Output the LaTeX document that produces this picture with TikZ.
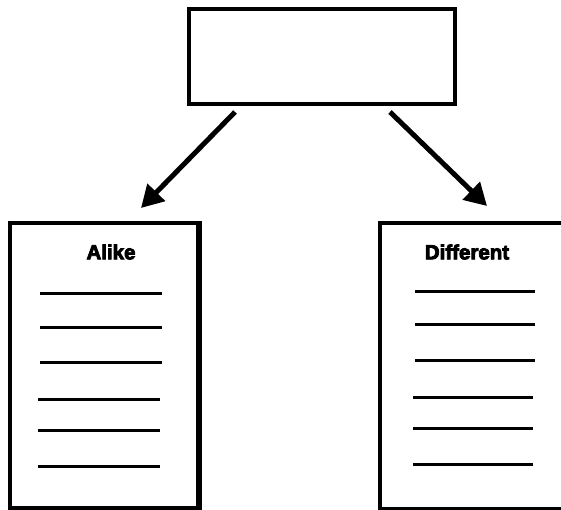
\documentclass[tikz,border=0pt]{standalone}
\usepackage{fontspec}
\setmainfont{Liberation Sans}
\newfontfamily\titlefont[FakeBold=4]{Liberation Sans Bold}
\usetikzlibrary{arrows.meta}
\tikzset{
  box/.style={draw, line width=4pt, minimum width=266pt, minimum height=95pt, inner sep=0pt},
  rule/.style={line width=3pt},
  title/.style={font=\titlefont\fontsize{20.5}{24}\selectfont, inner sep=0pt},
  arr/.style={line width=5pt, -{Triangle[length=22pt,width=24pt]}},
}
\begin{document}
\begin{tikzpicture}[x=1pt,y=-1pt]
\useasboundingbox (0,0) rectangle (561,510);
% top box
\node[box] (top) at (322,56.5) {};
% left document
\draw[line width=4pt] (10,223) -- (198,223);
\draw[line width=4pt] (10,221) -- (10,508) -- (200,508);
\draw[line width=6pt] (199,221) -- (199,510);
\node[title] (alike) at (111,252) {Alike};
\foreach \y/\a/\b in {293/40/162, 327/40/162, 362/40/162, 399/38/160, 430/38/160, 466/38/160}
  \draw[rule] (\a,\y) -- (\b,\y);
% right document
\draw[line width=4pt] (380,510) -- (380,223) -- (561,223);
\draw[line width=3pt] (380,508) -- (561,508);
\node[title] (diff) at (467,252) {Different};
\foreach \y/\a/\b in {291/415/535, 324/415/535, 360/415/535, 397/413/533, 428/413/533, 464/413/533}
  \draw[rule] (\a,\y) -- (\b,\y);
% arrows
\coordinate (ls) at (235,112);
\coordinate (le) at (141,208);
\coordinate (rs) at (390,112);
\coordinate (re) at (487,206);
\draw[arr] (ls) -- (le);
\draw[arr] (rs) -- (re);
\end{tikzpicture}
\end{document}
